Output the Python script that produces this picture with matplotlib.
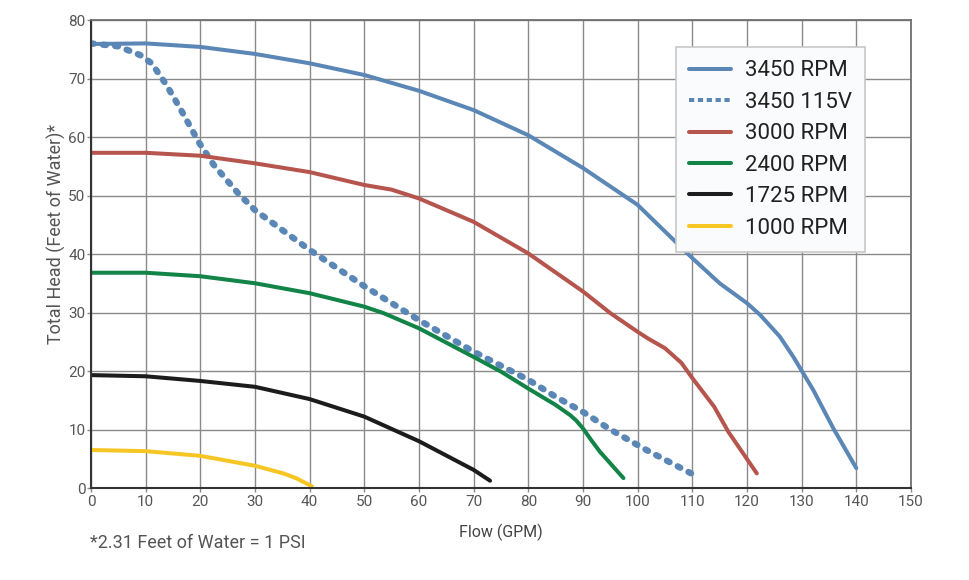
import matplotlib.pyplot as plt

plt.rcParams['font.family'] = ['Liberation Sans Narrow', 'Roboto', 'DejaVu Sans']

# Pump curves: flow (GPM) vs total head (feet of water)
flow_3450 = [0, 10, 20, 30, 40, 50, 60, 70, 80, 90, 100, 110, 115, 120, 122.4, 126, 128.5, 132.1, 135.8, 140]
head_3450 = [75.9, 76.0, 75.4, 74.2, 72.6, 70.6, 67.9, 64.6, 60.3, 54.7, 48.4, 39.3, 35.0, 31.6, 29.6, 25.9, 22.4, 16.8, 10.2, 3.4]

flow_115v = [0, 5, 9, 11.1, 13.8, 16.3, 19.8, 22.4, 26.9, 30, 40, 50, 60, 70, 80, 85, 90, 95, 101.6, 110.2]
head_115v = [76.0, 75.5, 74.0, 72.6, 68.9, 64.9, 59.0, 55.3, 50.4, 47.5, 40.7, 34.5, 28.7, 23.3, 18.5, 15.6, 13.0, 10.0, 6.5, 2.3]

flow_3000 = [0, 10, 20, 30, 40, 50, 55, 60, 70, 80, 90, 95, 100, 102, 105, 108, 110, 114, 116.6, 121.8]
head_3000 = [57.3, 57.3, 56.8, 55.5, 54.0, 51.8, 51.0, 49.5, 45.5, 40.1, 33.6, 29.9, 26.7, 25.5, 23.9, 21.4, 18.8, 13.9, 9.6, 2.5]

flow_2400 = [0, 10, 20, 30, 40, 50, 53.5, 60, 70, 75, 80, 85, 87.6, 88.8, 90, 91.5, 93.1, 97.4]
head_2400 = [36.8, 36.8, 36.2, 35.0, 33.3, 31.0, 29.9, 27.3, 22.4, 19.9, 17.0, 14.2, 12.5, 11.5, 10.2, 8.2, 6.2, 1.7]

flow_1725 = [0, 10, 20, 30, 40, 50, 60, 70, 73]
head_1725 = [19.3, 19.1, 18.3, 17.3, 15.2, 12.2, 8.0, 3.1, 1.25]

flow_1000 = [0, 10, 20, 30, 35.2, 37.6, 40.4]
head_1000 = [6.5, 6.3, 5.5, 3.8, 2.5, 1.65, 0.3]

fig = plt.figure(figsize=(9.69, 5.8), dpi=100)
ax = fig.add_axes([0.0939, 0.1586, 0.8462, 0.8069])

ax.plot(flow_3450, head_3450, color='#5b87b7', lw=2.9, label='3450 RPM', solid_capstyle='round')
ax.plot(flow_115v, head_115v, color='#5b87b7', lw=4.6, label='3450 115V',
        linestyle=(0, (0.45, 1.45)), dash_capstyle='round')
ax.plot(flow_3000, head_3000, color='#b5554d', lw=2.9, label='3000 RPM', solid_capstyle='round')
ax.plot(flow_2400, head_2400, color='#138447', lw=2.9, label='2400 RPM', solid_capstyle='round')
ax.plot(flow_1725, head_1725, color='#1c1c1c', lw=2.9, label='1725 RPM', solid_capstyle='round')
ax.plot(flow_1000, head_1000, color='#f6c624', lw=2.9, label='1000 RPM', solid_capstyle='round')

ax.set_xlim(0, 150)
ax.set_ylim(0, 80)
ax.set_xticks(range(0, 151, 10))
ax.set_yticks(range(0, 81, 10))
ax.grid(True, color='#8a8a8a', lw=1.0)
ax.set_axisbelow(True)
for side in ['top', 'right']:
    ax.spines[side].set_color('#707070')
    ax.spines[side].set_linewidth(1.3)
for side in ['left', 'bottom']:
    ax.spines[side].set_color('#333333')
    ax.spines[side].set_linewidth(1.5)
ax.tick_params(axis='both', colors='#8a8a8a', labelcolor='#555555', labelsize=11, length=3, width=1)
ax.tick_params(axis='x', pad=2)
ax.tick_params(axis='y', pad=1)

ax.set_xlabel('Flow (GPM)', fontsize=11.5, color='#444444', labelpad=11)
ax.set_ylabel('Total Head (Feet of Water)*', fontsize=13, color='#555555', labelpad=4)
ax.yaxis.set_label_coords(-0.031, 0.543)

handles, labels = ax.get_legend_handles_labels()
leg = ax.legend(handles, labels, loc='upper right', bbox_to_anchor=(0.944, 0.942), borderaxespad=0,
                fontsize=16, handlelength=1.9, labelspacing=0.47, fancybox=False,
                framealpha=1, borderpad=0.6, handletextpad=0.6)
leg.get_frame().set_facecolor('#fafbfc')
leg.get_frame().set_edgecolor('#c8c8c8')
leg.get_frame().set_linewidth(1.2)
for t in leg.get_texts():
    t.set_color('#222222')
# the dashed entry in the legend shows short dashes like the original
leg_lines = leg.get_lines()
leg_lines[1].set_linestyle((0, (1.3, 0.9)))
leg_lines[1].set_linewidth(2.9)
leg_lines[1].set_dash_capstyle('butt')

fig.text(0.093, 0.063, '*2.31 Feet of Water = 1 PSI', fontsize=13, color='#555555', va='center')

fig.savefig('out.png', dpi=100)
